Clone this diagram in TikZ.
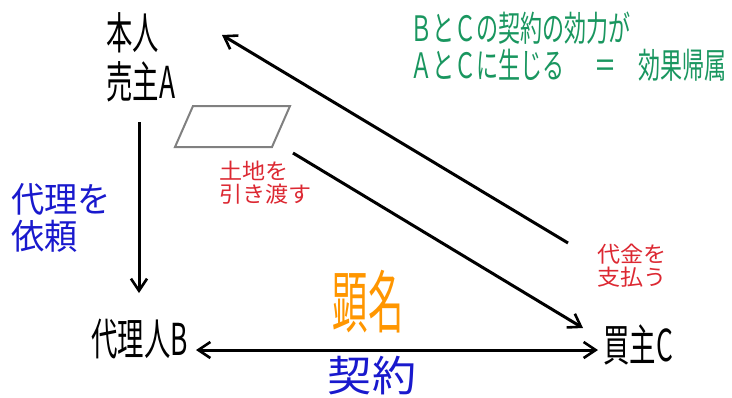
\documentclass[tikz,border=0pt]{standalone}
\usepackage{fontspec}
\usetikzlibrary{arrows.meta}
\newfontfamily\jpN[FakeStretch=0.6]{Noto Sans CJK JP}
\newfontfamily\jpG[FakeStretch=0.63]{Noto Sans CJK JP}
\newfontfamily\jpK[FakeStretch=0.52]{Noto Sans CJK JP}
\newfontfamily\jpW[FakeStretch=1.05]{Noto Sans CJK JP}
\newfontfamily\jpM[FakeStretch=0.95]{Noto Sans CJK JP}
\newfontfamily\jpR[FakeStretch=1.05]{Noto Sans CJK JP}
\definecolor{effgreen}{RGB}{25,150,95}
\definecolor{reqblue}{RGB}{25,25,205}
\definecolor{actred}{RGB}{220,40,50}
\definecolor{kenorange}{RGB}{255,150,0}
\tikzset{
  party/.style={inner sep=0pt, anchor=west, font=\jpN\fontsize{44}{50}\selectfont},
  greentxt/.style={inner sep=0pt, anchor=west, text=effgreen, font=\jpG\fontsize{35}{40}\selectfont},
  bluetxt/.style={inner sep=0pt, anchor=west, text=reqblue, font=\jpM\fontsize{35}{40}\selectfont},
  redtxt/.style={inner sep=0pt, anchor=west, text=actred, font=\jpR\fontsize{22}{26}\selectfont},
  flow/.style={line width=3pt, -{Straight Barb[length=12pt,width=16pt,line width=2.6pt]}},
  land/.style={draw=gray, line width=2pt}
}
\begin{document}
\begin{tikzpicture}[x=1pt,y=-1pt]
\useasboundingbox (0,0) rectangle (732,397);
% parties
\node[party] (a1) at (106,33) {本人};
\node[party] (a2) at (106,82) {売主A};
\node[party] (b) at (91,339) {代理人B};
\node[party] (c) at (603,345) {買主C};
% green explanation
\node[greentxt] (g1) at (410,28) {ＢとＣの契約の効力が};
\node[greentxt] (g2) at (410,65) {ＡとＣに生じる\hspace{30pt}＝\hspace{22pt}効果帰属};
% blue request
\node[bluetxt] (r1) at (11,199) {代理を};
\node[bluetxt] (r2) at (11,236) {依頼};
% red labels
\node[redtxt] (l1) at (219,171) {土地を};
\node[redtxt] (l2) at (219,194) {引き渡す};
\node[redtxt] (p1) at (597,254) {代金を};
\node[redtxt] (p2) at (597,277) {支払う};
% kenmei and contract
\node[inner sep=0pt, text=kenorange, font=\jpK\fontsize{68}{72}\selectfont] (k) at (368,302) {顕名};
\node[inner sep=0pt, text=reqblue, font=\jpW\fontsize{42}{46}\selectfont] (ct) at (372,376) {契約};
% land parcel
\node[inner sep=0pt] (land) at (232,126) {};
\draw[land] (193,106) -- (290,106) -- (272,147) -- (175,147) -- cycle;
% connector end points
\coordinate (aDown) at (139,122);
\coordinate (bUp) at (139,293);
\coordinate (cPay) at (568,243);
\coordinate (aIn) at (222,35);
\coordinate (landOut) at (293,153);
\coordinate (cIn) at (583,328);
\coordinate (bR) at (196,350);
\coordinate (cL) at (598,350);
\draw[flow] (aDown) -- (bUp);
\draw[flow] (cPay) -- (aIn);
\draw[flow] (landOut) -- (cIn);
\draw[flow, {Straight Barb[length=12pt,width=16pt,line width=2.6pt]}-{Straight Barb[length=12pt,width=16pt,line width=2.6pt]}] (bR) -- (cL);
\end{tikzpicture}
\end{document}
